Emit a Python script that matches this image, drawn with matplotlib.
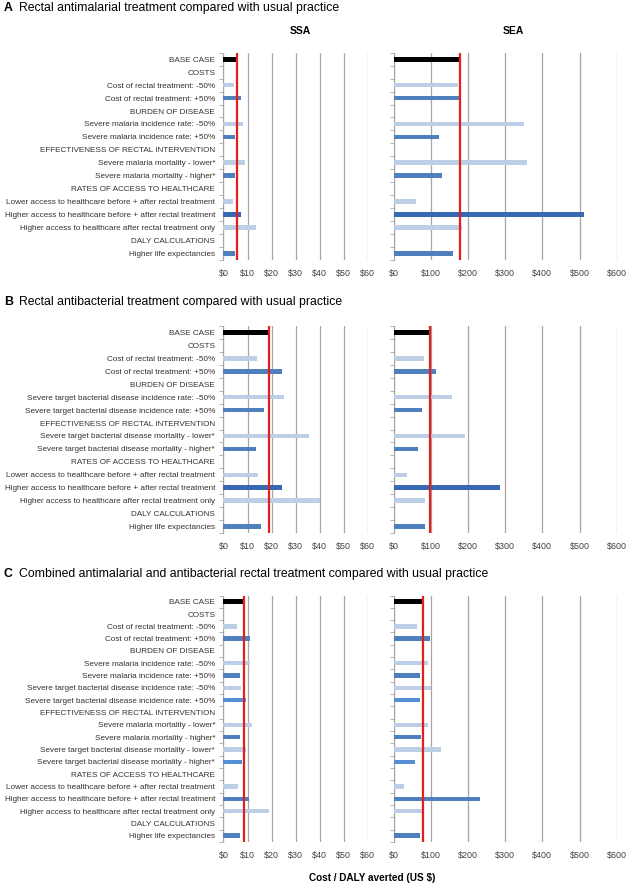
import matplotlib.pyplot as plt
import numpy as np

plt.rcParams['font.family'] = ['Liberation Sans', 'DejaVu Sans']

# row labels and row kinds (hdr = section heading without bar)
labels_ab_a = ["BASE CASE", "COSTS", "Cost of rectal treatment: -50%", "Cost of rectal treatment: +50%",
               "BURDEN OF DISEASE", "Severe malaria incidence rate: -50%", "Severe malaria incidence rate: +50%",
               "EFFECTIVENESS OF RECTAL INTERVENTION", "Severe malaria mortality - lower*",
               "Severe malaria mortality - higher*", "RATES OF ACCESS TO HEALTHCARE",
               "Lower access to healthcare before + after rectal treatment",
               "Higher access to healthcare before + after rectal treatment",
               "Higher access to healthcare after rectal treatment only", "DALY CALCULATIONS",
               "Higher life expectancies"]
labels_b = ["BASE CASE", "COSTS", "Cost of rectal treatment: -50%", "Cost of rectal treatment: +50%",
            "BURDEN OF DISEASE", "Severe target bacterial disease incidence rate: -50%",
            "Severe target bacterial disease incidence rate: +50%",
            "EFFECTIVENESS OF RECTAL INTERVENTION", "Severe target bacterial disease mortality - lower*",
            "Severe target bacterial disease mortality - higher*", "RATES OF ACCESS TO HEALTHCARE",
            "Lower access to healthcare before + after rectal treatment",
            "Higher access to healthcare before + after rectal treatment",
            "Higher access to healthcare after rectal treatment only", "DALY CALCULATIONS",
            "Higher life expectancies"]
labels_c = ["BASE CASE", "COSTS", "Cost of rectal treatment: -50%", "Cost of rectal treatment: +50%",
            "BURDEN OF DISEASE", "Severe malaria incidence rate: -50%", "Severe malaria incidence rate: +50%",
            "Severe target bacterial disease incidence rate: -50%",
            "Severe target bacterial disease incidence rate: +50%",
            "EFFECTIVENESS OF RECTAL INTERVENTION", "Severe malaria mortality - lower*",
            "Severe malaria mortality - higher*", "Severe target bacterial disease mortality - lower*",
            "Severe target bacterial disease mortality - higher*", "RATES OF ACCESS TO HEALTHCARE",
            "Lower access to healthcare before + after rectal treatment",
            "Higher access to healthcare before + after rectal treatment",
            "Higher access to healthcare after rectal treatment only", "DALY CALCULATIONS",
            "Higher life expectancies"]

kinds_ab = ["base", "hdr", "lo", "hi", "hdr", "lo", "hi", "hdr", "lo", "hi", "hdr", "lo", "hi2", "lo", "hdr", "hi"]
kinds_c = ["base", "hdr", "lo", "hi", "hdr", "lo", "hi", "lo", "hi3", "hdr", "lo", "hi", "lo", "hi3",
           "hdr", "lo", "hi", "lo", "hdr", "hi"]

nan = np.nan
# cost / DALY averted (US $)
a_ssa = [5.6, nan, 4.2, 7.2, nan, 8.0, 4.8, nan, 9.0, 4.6, nan, 4.0, 7.3, 13.6, nan, 4.8]
a_sea = [178, nan, 173, 177, nan, 351, 121, nan, 359, 131, nan, 60, 512, 184, nan, 159]
b_ssa = [19.0, nan, 14.0, 24.2, nan, 25.3, 17.0, nan, 35.6, 13.6, nan, 14.3, 24.5, 40.2, nan, 15.7]
b_sea = [97, nan, 81, 114, nan, 157, 77, nan, 191, 66, nan, 35, 285, 83, nan, 85]
c_ssa = [8.5, nan, 5.5, 11.2, nan, 11.2, 6.9, 7.1, 9.3, nan, 11.8, 6.8, 9.3, 7.6, nan, 6.1, 10.8, 18.8, nan, 6.9]
c_sea = [79, nan, 64, 97, nan, 91, 72, 100, 71, nan, 92, 73, 126, 58, nan, 28, 232, 78, nan, 71]

ssa_ticks = [0, 10, 20, 30, 40, 50, 60]
sea_ticks = [0, 100, 200, 300, 400, 500, 600]

colors = {"base": "black", "lo": "#bccfe6", "hi": "#4f7fbd", "hi2": "#3668b3", "hi3": "#558ed5", "hdr": "none"}

W, H = 629, 893
fig = plt.figure(figsize=(W / 100, H / 100), dpi=100)


def add_panel(x0, x1, row0, rowlast, labels, kinds, vals, ticks, show_labels):
    n = len(labels)
    step = (rowlast - row0) / (n - 1)
    top = row0 - step / 2
    bot = top + n * step
    ax = fig.add_axes([x0 / W, 1 - bot / H, (x1 - x0) / W, (bot - top) / H])
    y = np.arange(n)
    v = np.array(vals)
    cols = [colors[k] for k in kinds]
    ax.barh(y, np.nan_to_num(v), height=0.36, color=cols, zorder=3)
    ax.axvline(v[0], color="#e3201b", lw=1.6, zorder=4)
    ax.set_ylim(n - 0.5, -0.5)
    ax.set_xlim(ticks[0], ticks[-1])
    ax.set_xticks(ticks)
    ax.set_xticklabels(["$%d" % t for t in ticks], fontsize=6.4, color="#404040")
    ax.grid(axis="x", color="#a6a6a6", lw=0.9, zorder=0)
    for s in ["top", "right", "bottom"]:
        ax.spines[s].set_visible(False)
    ax.spines["left"].set_color("#a6a6a6")
    ax.tick_params(axis="x", length=0, pad=6.5)
    ax.set_yticks(y)
    if show_labels:
        ax.set_yticklabels(labels, fontsize=5.9, color="#333333")
    else:
        ax.set_yticklabels([])
    ax.set_yticks(np.arange(n + 1) - 0.5, minor=True)
    ax.tick_params(axis="y", which="major", length=0, pad=6)
    ax.tick_params(axis="y", which="minor", length=3, color="#a6a6a6")
    return ax


def add_title(y, letter, text):
    fig.text(4 / W, 1 - y / H, letter, fontsize=8.8, fontweight="bold", va="center")
    fig.text(19 / W, 1 - y / H, text, fontsize=8.8, va="center")


# panel A
add_title(8, "A", "Rectal antimalarial treatment compared with usual practice")
fig.text(300 / W, 1 - 31 / H, "SSA", fontsize=7.5, fontweight="bold", ha="center", va="center")
fig.text(513 / W, 1 - 31 / H, "SEA", fontsize=7.5, fontweight="bold", ha="center", va="center")
add_panel(223.5, 367.7, 59.3, 253.3, labels_ab_a, kinds_ab, a_ssa, ssa_ticks, True)
add_panel(393.7, 616.7, 59.3, 253.3, labels_ab_a, kinds_ab, a_sea, sea_ticks, False)

# panel B
add_title(302, "B", "Rectal antibacterial treatment compared with usual practice")
add_panel(223.5, 367.7, 332.3, 526.7, labels_b, kinds_ab, b_ssa, ssa_ticks, True)
add_panel(393.7, 616.7, 332.3, 526.7, labels_b, kinds_ab, b_sea, sea_ticks, False)

# panel C
add_title(574, "C", "Combined antimalarial and antibacterial rectal treatment compared with usual practice")
add_panel(223.5, 367.7, 601.7, 835.7, labels_c, kinds_c, c_ssa, ssa_ticks, True)
add_panel(393.7, 616.7, 601.7, 835.7, labels_c, kinds_c, c_sea, sea_ticks, False)

fig.text(372 / W, 1 - 878 / H, "Cost / DALY averted (US $)", fontsize=7.2, fontweight="bold",
         ha="center", va="center")

fig.savefig("out.png", dpi=100)
